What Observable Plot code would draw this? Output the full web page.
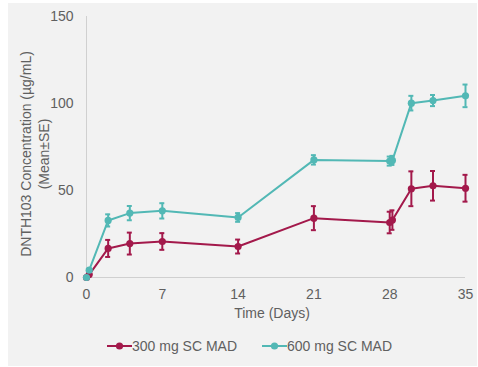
<!DOCTYPE html>
<html>
<head>
<meta charset="utf-8">
<script src="https://cdn.jsdelivr.net/npm/d3@7"></script>
<script src="https://cdn.jsdelivr.net/npm/@observablehq/plot@0.6"></script>
<style>
  html, body { margin: 0; padding: 0; background: #ffffff; }
  body { width: 478px; height: 367px; position: relative; overflow: hidden;
         font-family: "Liberation Sans", Arial, sans-serif; }
  #panel { position: absolute; left: 8px; top: 3px; width: 469px; height: 363px; background: #f2f2f2; }
  #chart { position: absolute; left: 0; top: 0; }
  #legend { position: absolute; left: 0; top: 336px; width: 478px; height: 20px;
            font-size: 14px; color: #606060; }
  .item { position: absolute; top: 0; display: flex; align-items: center; height: 20px; }
  .item svg { display: block; }
</style>
</head>
<body>
<div id="panel"></div>
<div id="chart"></div>
<div id="legend"></div>
<script>
// ---- data ----
const seriesNames = ["300 mg SC MAD", "600 mg SC MAD"];
const seriesColors = ["#a3194b", "#52b8b5"];

const days300 = [0, 0.25, 2, 4, 7, 14, 21, 28, 28.25, 30, 32, 35];
const mean300 = [0, 1.7, 16.7, 19.5, 20.7, 17.8, 34.1, 31.6, 33.0, 51.0, 52.7, 51.3];
const se300   = [0, 0.5, 4.9, 6.3, 4.8, 4.0, 6.9, 6.2, 5.6, 10.0, 8.5, 7.7];

const days600 = [0, 0.25, 2, 4, 7, 14, 21, 28, 28.25, 30, 32, 35];
const mean600 = [0, 4.2, 32.8, 37.0, 38.3, 34.5, 67.6, 66.9, 67.3, 100.2, 101.7, 104.4];
const se600   = [0, 0.5, 3.5, 4.1, 4.4, 2.5, 2.7, 2.6, 2.6, 4.2, 3.2, 6.5];

const xTicks = [0, 7, 14, 21, 28, 35];
const yTicks = [0, 50, 100, 150];
const xLabel = "Time (Days)";
const yLabelLines = ["DNTH103 Concentration (µg/mL)", "(Mean±SE)"];

// ---- build table ----
const rows = [];
days300.forEach((d, i) => rows.push({series: seriesNames[0], day: d, mean: mean300[i], se: se300[i]}));
days600.forEach((d, i) => rows.push({series: seriesNames[1], day: d, mean: mean600[i], se: se600[i]}));
const errRows = rows.filter(r => r.se > 0.6);

const colorOpts = {domain: seriesNames, range: seriesColors};

const plot = Plot.plot({
  width: 478,
  height: 325,
  marginLeft: 86,
  marginRight: 13,
  marginTop: 16,
  marginBottom: 48,
  style: {background: "transparent", color: "#606060", fontSize: "14px",
          fontFamily: "'Liberation Sans', Arial, sans-serif"},
  x: {domain: [0, 35], ticks: xTicks, tickSize: 0, tickPadding: 12, label: null},
  y: {domain: [0, 150], ticks: yTicks, tickSize: 0, tickPadding: 13, label: null},
  color: colorOpts,
  marks: [
    Plot.ruleX([0], {stroke: "#d0d0d0", strokeWidth: 1}),
    Plot.ruleY([0], {stroke: "#d0d0d0", strokeWidth: 1}),
    // series lines
    Plot.line(rows, {x: "day", y: "mean", z: "series", stroke: "series", strokeWidth: 2}),
    // error bars
    Plot.ruleX(errRows, {x: "day", y1: d => d.mean - d.se, y2: d => d.mean + d.se, stroke: "series", strokeWidth: 2}),
    Plot.ruleY(errRows, {y: d => d.mean + d.se, x1: "day", x2: "day", insetLeft: -2.5, insetRight: -2.5, stroke: "series", strokeWidth: 2}),
    Plot.ruleY(errRows, {y: d => d.mean - d.se, x1: "day", x2: "day", insetLeft: -2.5, insetRight: -2.5, stroke: "series", strokeWidth: 2}),
    // points
    Plot.dot(rows, {x: "day", y: "mean", fill: "series", r: 3.6}),
    // axis titles
    Plot.text([xLabel], {frameAnchor: "bottom", text: d => d, dy: 36, dx: -4, lineAnchor: "middle", fill: "#606060"}),
    Plot.text([yLabelLines.join("\n")], {frameAnchor: "left", text: d => d, rotate: -90, dx: -52, dy: 7,
      textAnchor: "middle", lineAnchor: "middle", lineHeight: 1.22, fill: "#606060"})
  ]
});
document.getElementById("chart").appendChild(plot);

// ---- legend ----
const legend = document.getElementById("legend");
const legendLeft = [107, 262];
seriesNames.forEach((name, i) => {
  const item = document.createElement("div");
  item.className = "item";
  item.style.left = legendLeft[i] + "px";
  item.innerHTML = `<svg width="25" height="20"><line x1="0" y1="10" x2="25" y2="10" stroke="${seriesColors[i]}" stroke-width="2"/><circle cx="12.5" cy="10" r="3.6" fill="${seriesColors[i]}"/></svg><span>${name}</span>`;
  legend.appendChild(item);
});
</script>
</body>
</html>
